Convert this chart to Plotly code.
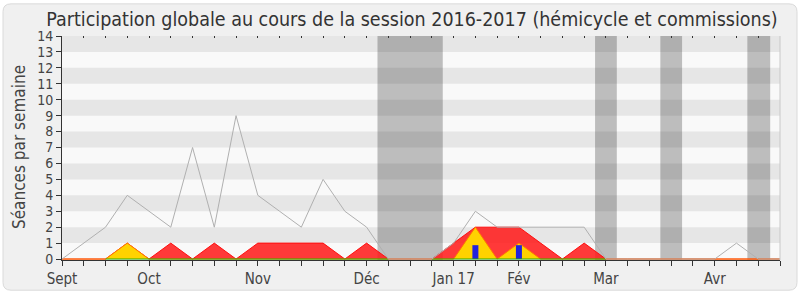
import plotly.graph_objects as go

weeks = list(range(34))
month_labels = {0: "Sept", 4: "Oct", 9: "Nov", 14: "Déc", 18: "Jan 17", 21: "Fév", 25: "Mar", 30: "Avr"}
total = [0, 1, 2, 4, 3, 2, 7, 2, 9, 4, 3, 2, 5, 3, 2, 0, 0, 0, 1, 3, 2, 2, 2, 2, 2, 0, 0, 0, 0, 0, 0, 1, 0, 0]
red = [0, 0, 0, 1, 0, 1, 0, 1, 0, 1, 1, 1, 1, 0, 1, 0, 0, 0, 1, 2, 2, 2, 1, 0, 1, 0, 0, 0, 0, 0, 0, 0, 0, 0]
yellow = [0, 0, 0, 1, 0, 0, 0, 0, 0, 0, 0, 0, 0, 0, 0, 0, 0, 0, 0, 2, 0, 1, 0, 0, 0, 0, 0, 0, 0, 0, 0, 0, 0, 0]
blue = [0, 0, 0, 0, 0, 0, 0, 0, 0, 0, 0, 0, 0, 0, 0, 0, 0, 0, 0, 0.87, 0, 0.87, 0, 0, 0, 0, 0, 0, 0, 0, 0, 0, 0, 0]
green = [None, None] + [0] * 14 + [None] + [0] * 9 + [None] * 8
vacations = [(14.5, 17.5), (24.5, 25.5), (27.5, 28.5), (31.5, 32.55)]

ticktext = [month_labels.get(w, "") for w in weeks]

L, R, T, B = 62, 20, 36, 34
W, H = 800, 300
pw, ph = W - L - R, H - T - B
YMIN = -0.06

def px(x):
    return (x - L) / pw

def py(y):
    return (H - B - y) / ph

# blue bars as thick vertical segments (so they sit above the filled areas)
bx, by = [], []
for w, v in zip(weeks, blue):
    if v:
        bx += [w, w, None]
        by += [0, v, None]

fig = go.Figure()
fig.add_trace(go.Scatter(x=weeks, y=red, mode="lines", fill="tozeroy",
                         fillcolor="rgba(255,30,30,0.88)", line=dict(color="#FF1010", width=1),
                         hoverinfo="skip", showlegend=False))
fig.add_trace(go.Scatter(x=weeks, y=yellow, mode="lines", fill="tozeroy",
                         fillcolor="#FFD200", line=dict(color="#FF7A00", width=1),
                         hoverinfo="skip", showlegend=False))
fig.add_trace(go.Scatter(x=bx, y=by, mode="lines", line=dict(color="#2222DD", width=6),
                         hoverinfo="skip", showlegend=False, connectgaps=False))
fig.add_trace(go.Scatter(x=weeks, y=green, mode="lines", line=dict(color="#22AA00", width=1),
                         hoverinfo="skip", showlegend=False, connectgaps=False))
fig.add_trace(go.Scatter(x=weeks, y=total, mode="lines", line=dict(color="#B0B0B0", width=1),
                         hoverinfo="skip", showlegend=False))
fig.add_trace(go.Scatter(x=[0, 33], y=[None, None], xaxis="x2", showlegend=False, hoverinfo="skip"))

shapes = []
x0, y0, x1, y1, r = px(3), py(297), px(797), py(3), 8
rx, ry = r / pw, r / ph
path = (f"M {x0+rx},{y0} L {x1-rx},{y0} Q {x1},{y0} {x1},{y0+ry} L {x1},{y1-ry} Q {x1},{y1} {x1-rx},{y1} "
        f"L {x0+rx},{y1} Q {x0},{y1} {x0},{y1-ry} L {x0},{y0+ry} Q {x0},{y0} {x0+rx},{y0} Z")
shapes.append(dict(type="path", path=path, xref="paper", yref="paper", fillcolor="#F0F0F0",
                   line=dict(color="#DADADA", width=1), layer="below"))
shapes.append(dict(type="rect", xref="paper", yref="paper", x0=0, x1=1, y0=0, y1=1,
                   fillcolor="#F9F9F9", line=dict(width=0), layer="below"))
for k in range(7):
    shapes.append(dict(type="rect", xref="paper", yref="y", x0=0, x1=1, y0=2 * k + 1, y1=2 * k + 2,
                       fillcolor="#E6E6E6", line=dict(width=0), layer="below"))
for a, b in vacations:
    shapes.append(dict(type="rect", xref="x", yref="paper", x0=a, x1=b, y0=0, y1=1,
                       fillcolor="rgba(0,0,0,0.24)", line=dict(width=0), layer="below"))
shapes.append(dict(type="line", xref="paper", yref="paper", x0=1, x1=1, y0=0, y1=1,
                   line=dict(color="#C8C8C8", width=1), layer="above"))

font_fam = "DejaVu Sans Condensed, DejaVu Sans, sans-serif"

fig.update_layout(
    width=W, height=H,
    margin=dict(l=L, r=R, t=T, b=B),
    paper_bgcolor="white",
    plot_bgcolor="rgba(0,0,0,0)",
    shapes=shapes,
    title=dict(text="Participation globale au cours de la session 2016-2017 (hémicycle et commissions)",
               x=0.515, xref="container", xanchor="center", y=1 - 19 / 300, yref="container",
               yanchor="middle", font=dict(family=font_fam, size=19.5, color="#333333")),
    xaxis=dict(range=[0, 33], tickmode="array", tickvals=weeks, ticktext=ticktext,
               ticks="outside", ticklen=5, tickcolor="#333333", showgrid=False, zeroline=False,
               showline=True, linecolor="#333333", linewidth=1, layer="below traces",
               tickfont=dict(family=font_fam, size=15, color="#444444")),
    xaxis2=dict(range=[0, 33], overlaying="x", side="top", anchor="y", tickmode="array",
                tickvals=weeks, ticks="inside", ticklen=2, tickcolor="#333333",
                showticklabels=False, showgrid=False, zeroline=False, showline=False),
    yaxis=dict(range=[YMIN, 14], tickmode="linear", tick0=0, dtick=1, ticks="outside",
               ticklen=5, tickcolor="#333333", showgrid=False, zeroline=False,
               showline=True, linecolor="#333333", linewidth=1,
               tickfont=dict(family=font_fam, size=14, color="#444444")),
    annotations=[dict(text="Séances par semaine", xref="paper", yref="paper",
                      x=px(19), y=py(150), textangle=-90, showarrow=False,
                      xanchor="center", yanchor="middle",
                      font=dict(family=font_fam, size=17, color="#444444"))],
)

fig.write_html("out.html")
